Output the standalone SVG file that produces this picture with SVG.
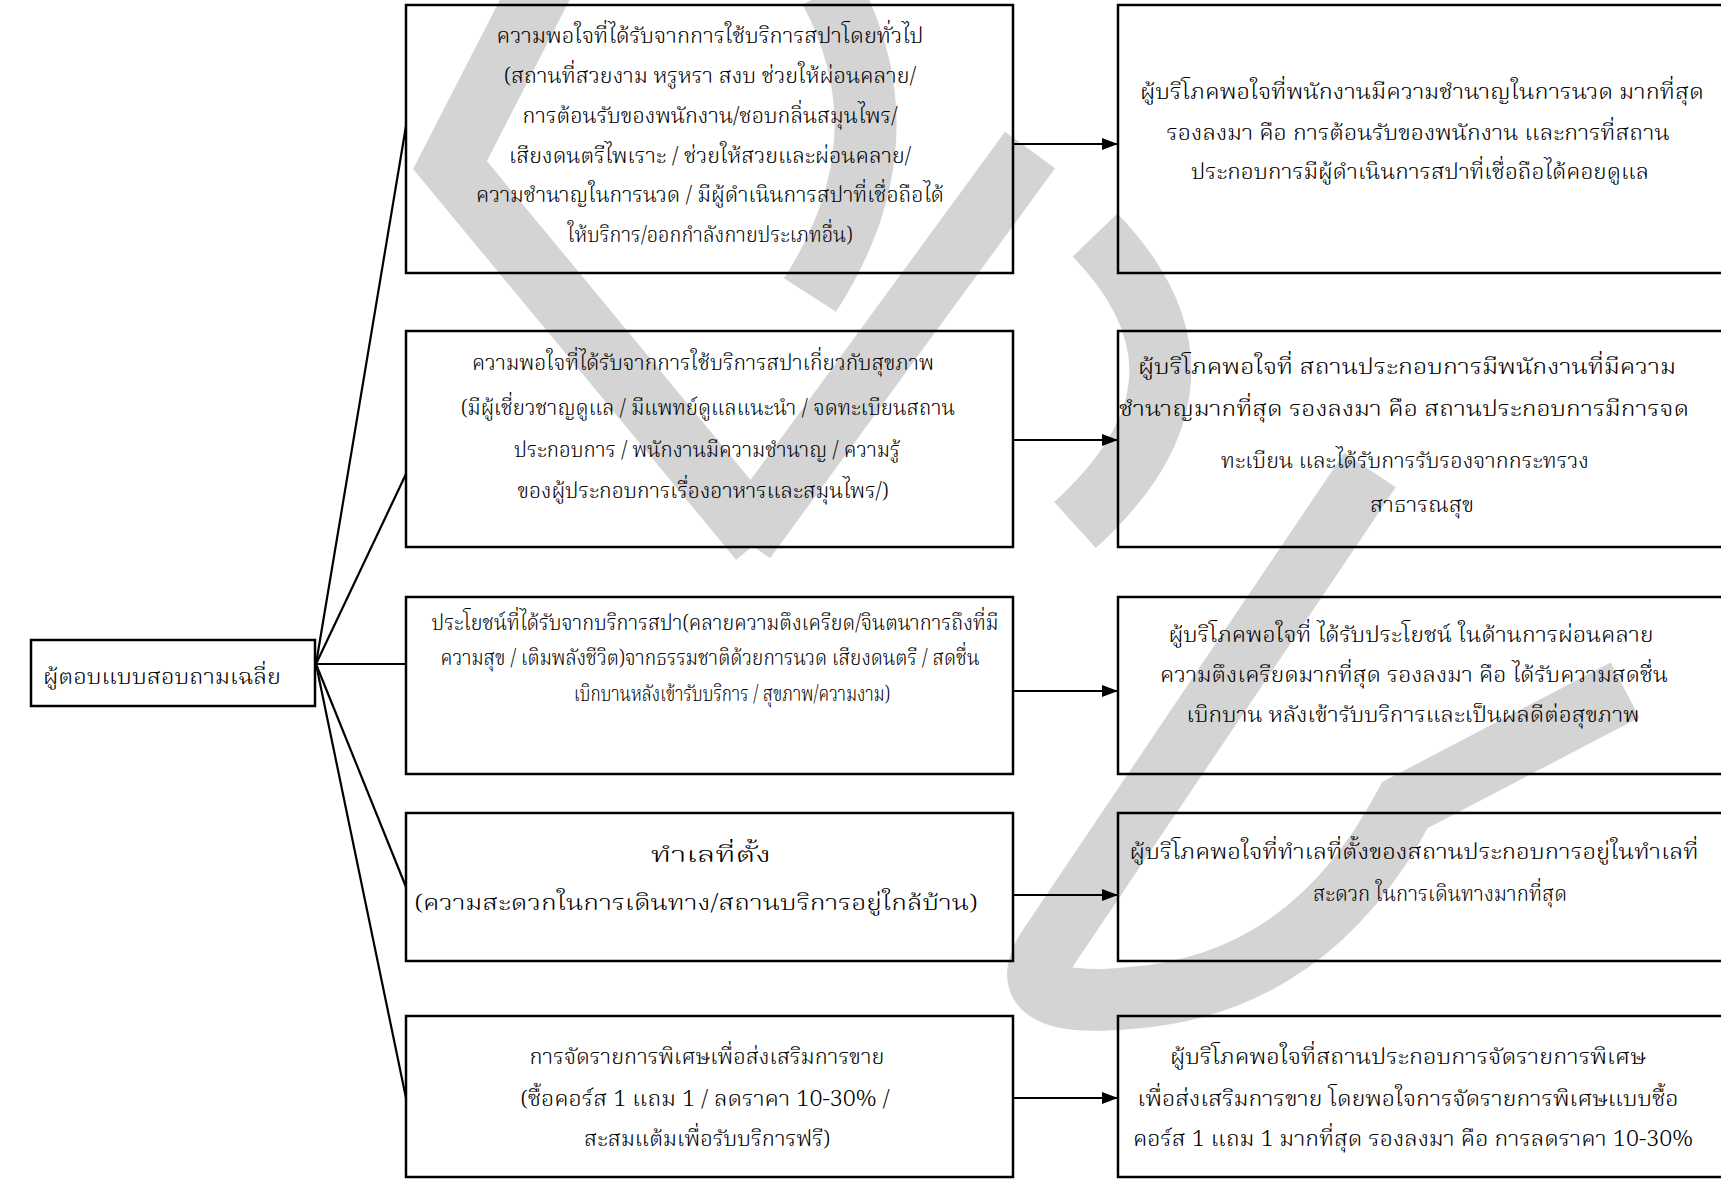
<svg xmlns="http://www.w3.org/2000/svg" width="1721" height="1179" viewBox="0 0 1721 1179">
<defs>
<style>
.box{fill:none;stroke:#000;stroke-width:2.5}
.t{font-family:"Noto Serif Thai","Noto Sans Thai","Liberation Serif","DejaVu Serif",serif;font-size:22px;font-weight:300;fill:#000;text-anchor:middle}
.wm{fill:none;stroke:#d4d4d4;stroke-width:62;stroke-linecap:butt;stroke-linejoin:miter}
.ln{stroke:#000;stroke-width:2.2;fill:none}
</style>
<marker id="ah" viewBox="0 0 16 12" refX="16" refY="6" markerWidth="16" markerHeight="12" markerUnits="userSpaceOnUse" orient="auto">
<path d="M0,0 L16,6 L0,12 z" fill="#000"/>
</marker>
</defs>
<rect width="1721" height="1179" fill="#fff"/>
<g id="watermark">
<path class="wm" d="M 545 -20 L 450 165 L 760 540"/>
<path class="wm" d="M 830 -10 Q 910 140 810 295"/>
<path class="wm" d="M 1030 150 L 745 540"/>
<path class="wm" d="M 1095 235 Q 1235 380 1075 525"/>
<path class="wm" d="M 1370 470 L 1050 945 Q 1005 1010 1130 998 Q 1310 985 1405 805 L 1625 690"/>
</g>
<g id="connectors">
<line class="ln" x1="316" y1="664" x2="406" y2="126"/>
<line class="ln" x1="316" y1="664" x2="406" y2="474"/>
<line class="ln" x1="316" y1="664" x2="406" y2="664"/>
<line class="ln" x1="316" y1="664" x2="406" y2="887"/>
<line class="ln" x1="316" y1="664" x2="406" y2="1098"/>
<line class="ln" x1="1013" y1="144" x2="1118" y2="144" marker-end="url(#ah)"/>
<line class="ln" x1="1013" y1="440" x2="1118" y2="440" marker-end="url(#ah)"/>
<line class="ln" x1="1013" y1="691" x2="1118" y2="691" marker-end="url(#ah)"/>
<line class="ln" x1="1013" y1="895" x2="1118" y2="895" marker-end="url(#ah)"/>
<line class="ln" x1="1013" y1="1098" x2="1118" y2="1098" marker-end="url(#ah)"/>
</g>
<g id="root">
<rect class="box" x="31" y="640" width="284" height="66"/>
<text class="t" x="162" y="684" font-size="27" textLength="238" lengthAdjust="spacingAndGlyphs">ผู้ตอบแบบสอบถามเฉลี่ย</text>
</g>
<g id="m1">
<rect class="box" x="406" y="5" width="607" height="268"/>
<text class="t" x="710" y="43" textLength="427" lengthAdjust="spacingAndGlyphs">ความพอใจที่ได้รับจากการใช้บริการสปาโดยทั่วไป</text>
<text class="t" x="710" y="83" textLength="412" lengthAdjust="spacingAndGlyphs">(สถานที่สวยงาม หรูหรา สงบ ช่วยให้ผ่อนคลาย/</text>
<text class="t" x="710" y="123" textLength="375" lengthAdjust="spacingAndGlyphs">การต้อนรับของพนักงาน/ชอบกลิ่นสมุนไพร/</text>
<text class="t" x="710" y="163" textLength="402" lengthAdjust="spacingAndGlyphs">เสียงดนตรีไพเราะ / ช่วยให้สวยและผ่อนคลาย/</text>
<text class="t" x="710" y="202" textLength="468" lengthAdjust="spacingAndGlyphs">ความชำนาญในการนวด / มีผู้ดำเนินการสปาที่เชื่อถือได้</text>
<text class="t" x="710" y="242" textLength="285" lengthAdjust="spacingAndGlyphs">ให้บริการ/ออกกำลังกายประเภทอื่น)</text>
</g>
<g id="r1">
<rect class="box" x="1118" y="5" width="605" height="268"/>
<text class="t" x="1422" y="99" textLength="564" lengthAdjust="spacingAndGlyphs">ผู้บริโภคพอใจที่พนักงานมีความชำนาญในการนวด  มากที่สุด</text>
<text class="t" x="1418" y="140" textLength="503" lengthAdjust="spacingAndGlyphs">รองลงมา คือ การต้อนรับของพนักงาน และการที่สถาน</text>
<text class="t" x="1420" y="179" textLength="458" lengthAdjust="spacingAndGlyphs">ประกอบการมีผู้ดำเนินการสปาที่เชื่อถือได้คอยดูแล</text>
</g>
<g id="m2">
<rect class="box" x="406" y="331" width="607" height="216"/>
<text class="t" x="703" y="370" textLength="462" lengthAdjust="spacingAndGlyphs">ความพอใจที่ได้รับจากการใช้บริการสปาเกี่ยวกับสุขภาพ</text>
<text class="t" x="708" y="415" textLength="494" lengthAdjust="spacingAndGlyphs">(มีผู้เชี่ยวชาญดูแล / มีแพทย์ดูแลแนะนำ / จดทะเบียนสถาน</text>
<text class="t" x="707" y="457" textLength="386" lengthAdjust="spacingAndGlyphs">ประกอบการ / พนักงานมีความชำนาญ / ความรู้</text>
<text class="t" x="703" y="498" textLength="371" lengthAdjust="spacingAndGlyphs">ของผู้ประกอบการเรื่องอาหารและสมุนไพร/)</text>
</g>
<g id="r2">
<rect class="box" x="1118" y="331" width="605" height="216"/>
<text class="t" x="1407" y="374" textLength="538" lengthAdjust="spacingAndGlyphs">ผู้บริโภคพอใจที่ สถานประกอบการมีพนักงานที่มีความ</text>
<text class="t" x="1404" y="416" textLength="570" lengthAdjust="spacingAndGlyphs">ชำนาญมากที่สุด รองลงมา คือ สถานประกอบการมีการจด</text>
<text class="t" x="1405" y="468" textLength="368" lengthAdjust="spacingAndGlyphs">ทะเบียน และได้รับการรับรองจากกระทรวง</text>
<text class="t" x="1422" y="512" textLength="104" lengthAdjust="spacingAndGlyphs">สาธารณสุข</text>
</g>
<g id="m3">
<rect class="box" x="406" y="597" width="607" height="177"/>
<text class="t" x="715" y="630" font-size="19" textLength="567" lengthAdjust="spacingAndGlyphs">ประโยชน์ที่ได้รับจากบริการสปา(คลายความตึงเครียด/จินตนาการถึงที่มี</text>
<text class="t" x="710" y="665" font-size="19" textLength="539" lengthAdjust="spacingAndGlyphs">ความสุข / เติมพลังชีวิต)จากธรรมชาติด้วยการนวด เสียงดนตรี / สดชื่น</text>
<text class="t" x="732" y="701" font-size="19" textLength="316" lengthAdjust="spacingAndGlyphs">เบิกบานหลังเข้ารับบริการ / สุขภาพ/ความงาม)</text>
</g>
<g id="r3">
<rect class="box" x="1118" y="597" width="605" height="177"/>
<text class="t" x="1411" y="642" textLength="485" lengthAdjust="spacingAndGlyphs">ผู้บริโภคพอใจที่ ได้รับประโยชน์ ในด้านการผ่อนคลาย</text>
<text class="t" x="1414" y="682" textLength="508" lengthAdjust="spacingAndGlyphs">ความตึงเครียดมากที่สุด รองลงมา คือ ได้รับความสดชื่น</text>
<text class="t" x="1413" y="722" textLength="453" lengthAdjust="spacingAndGlyphs">เบิกบาน หลังเข้ารับบริการและเป็นผลดีต่อสุขภาพ</text>
</g>
<g id="m4">
<rect class="box" x="406" y="813" width="607" height="148"/>
<text class="t" x="711" y="862" font-size="25" textLength="120" lengthAdjust="spacingAndGlyphs">ทำเลที่ตั้ง</text>
<text class="t" x="696" y="910" font-size="25" textLength="563" lengthAdjust="spacingAndGlyphs">(ความสะดวกในการเดินทาง/สถานบริการอยู่ใกล้บ้าน)</text>
</g>
<g id="r4">
<rect class="box" x="1118" y="813" width="605" height="148"/>
<text class="t" x="1414" y="859" textLength="569" lengthAdjust="spacingAndGlyphs">ผู้บริโภคพอใจที่ทำเลที่ตั้งของสถานประกอบการอยู่ในทำเลที่</text>
<text class="t" x="1440" y="901" textLength="254" lengthAdjust="spacingAndGlyphs">สะดวก ในการเดินทางมากที่สุด</text>
</g>
<g id="m5">
<rect class="box" x="406" y="1016" width="607" height="161"/>
<text class="t" x="707" y="1064" textLength="355" lengthAdjust="spacingAndGlyphs">การจัดรายการพิเศษเพื่อส่งเสริมการขาย</text>
<text class="t" x="705" y="1106" textLength="369" lengthAdjust="spacingAndGlyphs">(ซื้อคอร์ส 1 แถม 1 / ลดราคา 10-30% /</text>
<text class="t" x="707" y="1146" textLength="246" lengthAdjust="spacingAndGlyphs">สะสมแต้มเพื่อรับบริการฟรี)</text>
</g>
<g id="r5">
<rect class="box" x="1118" y="1016" width="605" height="161"/>
<text class="t" x="1408" y="1064" textLength="476" lengthAdjust="spacingAndGlyphs">ผู้บริโภคพอใจที่สถานประกอบการจัดรายการพิเศษ</text>
<text class="t" x="1408" y="1106" textLength="541" lengthAdjust="spacingAndGlyphs">เพื่อส่งเสริมการขาย โดยพอใจการจัดรายการพิเศษแบบซื้อ</text>
<text class="t" x="1413" y="1146" textLength="560" lengthAdjust="spacingAndGlyphs">คอร์ส 1 แถม 1 มากที่สุด รองลงมา คือ การลดราคา 10-30%</text>
</g>
</svg>
